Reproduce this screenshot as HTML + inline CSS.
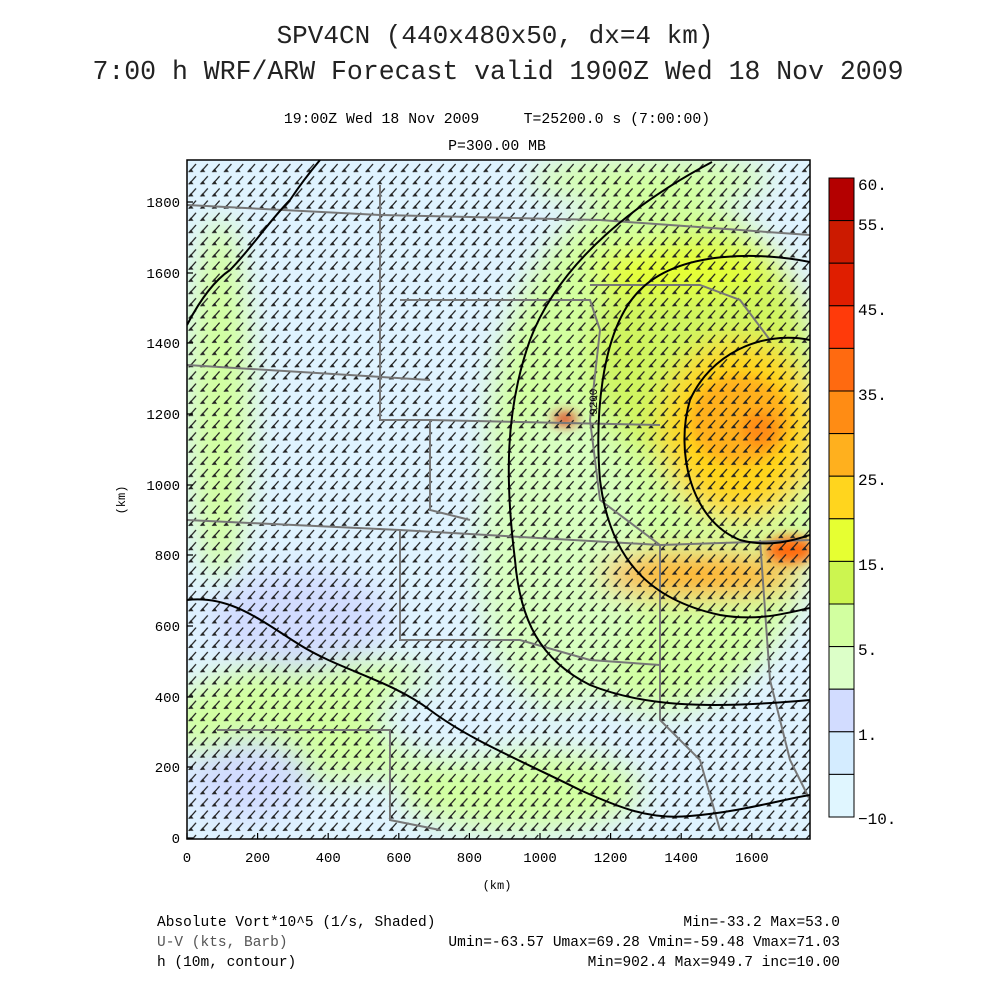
<!DOCTYPE html>
<html><head><meta charset="utf-8"><style>
html,body{margin:0;padding:0;background:#fff;}
svg{display:block}
text{font-family:"Liberation Mono",monospace;fill:#000}
.t{fill:#222}
</style></head><body>
<svg width="1000" height="1000" viewBox="0 0 1000 1000" xmlns="http://www.w3.org/2000/svg">
<defs>
<clipPath id="pc"><rect x="187" y="160" width="623" height="679"/></clipPath>
<filter id="bl" x="-50%" y="-50%" width="200%" height="200%"><feGaussianBlur stdDeviation="14"/></filter>
<filter id="bl2" x="-50%" y="-50%" width="200%" height="200%"><feGaussianBlur stdDeviation="6"/></filter>
<pattern id="barb" x="187" y="162" width="11.8" height="12.2" patternUnits="userSpaceOnUse">
<path d="M2,10 L9,2" stroke="#1a1a1a" stroke-width="1.2" fill="none"/>
<path d="M1,10 L6.5,10 L4,6.5 Z" fill="#222"/>
</pattern>
</defs>
<text class="t" x="495" y="43" font-size="26" text-anchor="middle">SPV4CN (440x480x50, dx=4 km)</text>
<text class="t" x="498" y="79" font-size="26.5" text-anchor="middle">7:00 h WRF/ARW Forecast valid 1900Z Wed 18 Nov 2009</text>
<text x="497" y="123" font-size="14.8" text-anchor="middle" xml:space="preserve">19:00Z Wed 18 Nov 2009     T=25200.0 s (7:00:00)</text>
<text x="497" y="150" font-size="14.8" text-anchor="middle">P=300.00 MB</text>

<g clip-path="url(#pc)">
<rect x="187" y="160" width="623" height="679" fill="#dff3ff"/>
<g filter="url(#bl)">
<ellipse cx="660" cy="450" rx="170" ry="260" fill="#d2ffa0"/>
<ellipse cx="560" cy="560" rx="80" ry="150" fill="#d8ffc0"/>
<ellipse cx="330" cy="720" rx="160" ry="60" fill="#d2ffa0"/>
<ellipse cx="520" cy="790" rx="120" ry="40" fill="#d2ffa0"/>
<ellipse cx="220" cy="400" rx="30" ry="180" fill="#d2ffa0"/>
<ellipse cx="300" cy="620" rx="90" ry="50" fill="#d2dcff"/>
<ellipse cx="250" cy="780" rx="60" ry="40" fill="#d2dcff"/>
<ellipse cx="650" cy="180" rx="120" ry="20" fill="#d2ffa0"/>
<ellipse cx="700" cy="350" rx="110" ry="120" fill="#d0f560"/>
<ellipse cx="740" cy="430" rx="80" ry="90" fill="#ffd51e"/>
<ellipse cx="700" cy="575" rx="100" ry="22" fill="#ffb01e"/>
<ellipse cx="680" cy="270" rx="90" ry="25" fill="#e6ff32"/>
<ellipse cx="460" cy="720" rx="80" ry="40" fill="#dff3ff"/>
</g>
<g filter="url(#bl2)">
<ellipse cx="740" cy="420" rx="50" ry="45" fill="#ffb01e"/>
<ellipse cx="760" cy="430" rx="18" ry="18" fill="#ff8c14"/>
<ellipse cx="790" cy="550" rx="25" ry="14" fill="#ff6a10"/>
<ellipse cx="565" cy="419" rx="12" ry="6" fill="#e01e00"/>
</g>
<rect x="187" y="160" width="623" height="679" fill="url(#barb)"/>
<g stroke="#777" stroke-width="2" fill="none">
<path d="M187,205 L380,215 L600,220 L810,235"/>
<path d="M187,365 L430,380"/>
<path d="M380,185 L380,420 L430,420 L430,510 L470,520"/>
<path d="M187,520 L400,530 L660,545 L810,540"/>
<path d="M430,420 L660,425"/>
<path d="M400,530 L400,640 L520,640 L590,660 L660,665"/>
<path d="M400,300 L590,300 L600,330 L590,420 L600,500 L660,545"/>
<path d="M590,285 L700,285 L740,300 L770,340"/>
<path d="M660,545 L660,720 L700,760 L720,830"/>
<path d="M217,730 L390,730 L390,820 L440,830"/>
<path d="M760,540 L770,680 L790,760 L810,800"/>
</g>
<g stroke="#000" stroke-width="2" fill="none">
<path d="M712,162 C640,200 560,260 530,340 C505,410 505,480 515,560 C520,620 540,660 590,685 C640,705 700,710 810,700"/>
<path d="M810,262 C760,252 680,250 640,290 C600,330 595,420 600,480 C610,560 650,600 720,615 C760,622 790,612 810,608"/>
<path d="M810,340 C760,330 710,355 690,400 C675,450 690,520 740,540 C770,548 795,540 810,535"/>
<path d="M187,600 C230,595 260,620 300,645 C340,670 390,680 430,710 C470,740 520,760 580,790 C620,808 650,820 690,816 C740,812 780,800 810,795"/>
<path d="M187,325 C200,300 215,280 230,270 C250,250 270,220 290,200 C300,185 310,172 320,160"/>
</g>
</g>
<text x="597" y="415" font-size="11" transform="rotate(-90 597 415)">9200</text>
<rect x="187" y="160" width="623" height="679" fill="none" stroke="#000" stroke-width="1.5"/>
<g stroke="#000" stroke-width="1.2">
<path d="M187,839v-6M257.6,839v-6M328.2,839v-6M398.8,839v-6M469.4,839v-6M540,839v-6M610.6,839v-6M681.2,839v-6M751.8,839v-6"/>
<path d="M187,838h6M187,767h6M187,697h6M187,626h6M187,555h6M187,485h6M187,414h6M187,343h6M187,273h6M187,202h6"/>
</g>
<g font-size="14" text-anchor="middle">
<text x="187" y="862">0</text><text x="257.6" y="862">200</text><text x="328.2" y="862">400</text><text x="398.8" y="862">600</text><text x="469.4" y="862">800</text><text x="540" y="862">1000</text><text x="610.6" y="862">1200</text><text x="681.2" y="862">1400</text><text x="751.8" y="862">1600</text>
</g>
<g font-size="14" text-anchor="end">
<text x="180" y="843">0</text><text x="180" y="772">200</text><text x="180" y="702">400</text><text x="180" y="631">600</text><text x="180" y="560">800</text><text x="180" y="490">1000</text><text x="180" y="419">1200</text><text x="180" y="348">1400</text><text x="180" y="278">1600</text><text x="180" y="207">1800</text>
</g>
<text x="497" y="889" font-size="12" text-anchor="middle">(km)</text>
<text x="125" y="500" font-size="12" text-anchor="middle" transform="rotate(-90 125 500)">(km)</text>

<g stroke="#000" stroke-width="1">
<rect x="829" y="178" width="25" height="42.6" fill="#b40000"/>
<rect x="829" y="220.6" width="25" height="42.6" fill="#cc1a00"/>
<rect x="829" y="263.2" width="25" height="42.6" fill="#e01e00"/>
<rect x="829" y="305.8" width="25" height="42.6" fill="#ff3a0a"/>
<rect x="829" y="348.4" width="25" height="42.6" fill="#ff6a10"/>
<rect x="829" y="391" width="25" height="42.6" fill="#ff8c14"/>
<rect x="829" y="433.6" width="25" height="42.6" fill="#ffb01e"/>
<rect x="829" y="476.2" width="25" height="42.6" fill="#ffd51e"/>
<rect x="829" y="518.8" width="25" height="42.6" fill="#e6ff32"/>
<rect x="829" y="561.4" width="25" height="42.6" fill="#ccf550"/>
<rect x="829" y="604" width="25" height="42.6" fill="#d2ffa0"/>
<rect x="829" y="646.6" width="25" height="42.6" fill="#dcffc8"/>
<rect x="829" y="689.2" width="25" height="42.6" fill="#d2dcff"/>
<rect x="829" y="731.8" width="25" height="42.6" fill="#d4ecff"/>
<rect x="829" y="774.4" width="25" height="42.6" fill="#e0f6ff"/>
</g>
<g font-size="16">
<text x="858" y="190">60.</text><text x="858" y="230">55.</text><text x="858" y="315">45.</text><text x="858" y="400">35.</text><text x="858" y="485">25.</text><text x="858" y="570">15.</text><text x="858" y="655">5.</text><text x="858" y="740">1.</text><text x="858" y="824">−10.</text>
</g>

<g font-size="14.5">
<text x="157" y="926">Absolute Vort*10^5 (1/s, Shaded)</text>
<text x="157" y="946" style="fill:#555">U-V (kts, Barb)</text>
<text x="157" y="966">h (10m, contour)</text>
</g>
<g font-size="14.5" text-anchor="end">
<text x="840" y="926">Min=-33.2 Max=53.0</text>
<text x="840" y="946">Umin=-63.57 Umax=69.28 Vmin=-59.48 Vmax=71.03</text>
<text x="840" y="966">Min=902.4 Max=949.7 inc=10.00</text>
</g>
</svg>
</body></html>
